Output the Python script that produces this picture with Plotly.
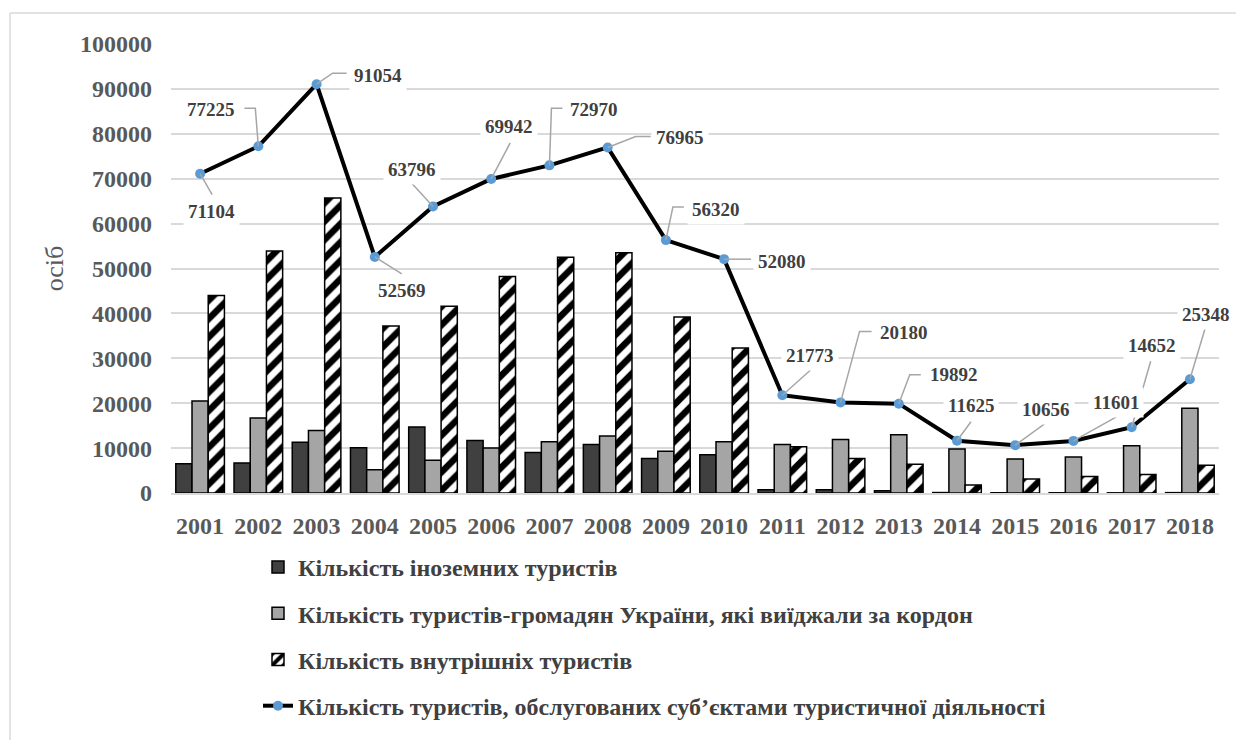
import plotly.graph_objects as go

# ---------------- data ----------------
years = [str(y) for y in range(2001, 2019)]
foreign = [6500, 6700, 11300, 10100, 14700, 11700, 9000, 10800, 7700, 8500,
           700, 700, 500, 100, 60, 50, 40, 80]
outbound = [20500, 16700, 13900, 5200, 7300, 10000, 11400, 12700, 9300, 11400,
            10800, 11900, 13000, 9800, 7600, 8000, 10500, 18900]
domestic = [44000, 53900, 65700, 37200, 41600, 48200, 52500, 53500, 39200, 32300,
            10300, 7700, 6400, 1800, 3100, 3700, 4100, 6200]
served = [71104, 77225, 91054, 52569, 63796, 69942, 72970, 76965, 56320, 52080,
          21773, 20180, 19892, 11625, 10656, 11601, 14652, 25348]

names = [
    "Кількість іноземних туристів",
    "Кількість туристів-громадян України, які виїджали за кордон",
    "Кількість внутрішніх туристів",
    "Кількість туристів, обслугованих суб’єктами туристичної діяльності",
]
y_title = "осіб"

# ---------------- style: label offsets (pixels, screen: +x right, +y down) ----------------
label_off = [(11, 38), (-47, -37), (61, -9), (27, 34), (-21, -37), (18, -52),
             (45, -56), (72, -10), (50, -31), (58, 2), (28, -40), (63, -70),
             (55, -29), (14, -35), (31, -36), (43, -38), (20, -82), (16, -65)]
# leader polylines (pixel offsets from the point, screen coords)
leaders = [
    [(12, 21)],
    [(-3, -38), (-14, -38)],
    [(16, -11), (30, -11)],
    [(27, 17)],
    [(-21, -23)],
    [(19, -36)],
    [(2, -57), (13, -57)],
    [(28, -11), (43, -11)],
    [(7, -33), (18, -33)],
    [(27, 0)],
    [(28, -25)],
    [(19, -71), (31, -71)],
    [(11, -29), (22, -29)],
    [(14, -19)],
    [(29, -21)],
    [(43, -24)],
    [(19, -66)],
    [(15, -50)],
]

SERIF = "Liberation Serif"
GRID = "#D9D9D9"
TXT = "#595959"
LBL = "#404040"

W, H = 1236, 740
ML, MR, MT, MB = 171, 17, 44, 247
PW, PH = W - ML - MR, H - MT - MB


def px_x(px):
    return (px - ML) / PW


def px_y(py):
    return (H - MB - py) / PH


idx = list(range(len(years)))

fig = go.Figure()

fig.add_trace(go.Bar(
    x=idx, y=foreign, name=names[0], legendgroup="a",
    marker=dict(color="#404040", line=dict(color="#000000", width=1.5)),
))
fig.add_trace(go.Bar(
    x=idx, y=outbound, name=names[1], legendgroup="b",
    marker=dict(color="#A5A5A5", line=dict(color="#000000", width=1.5)),
))
fig.add_trace(go.Bar(
    x=idx, y=domestic, name=names[2], legendgroup="c",
    marker=dict(color="#FFFFFF", line=dict(color="#000000", width=1.5),
                pattern=dict(shape="/", fgcolor="#000000", bgcolor="#FFFFFF",
                             fgopacity=1, size=13, solidity=0.5,
                             fillmode="replace")),
))
fig.add_trace(go.Scatter(
    x=idx, y=served, name=names[3], legendgroup="d", mode="lines+markers",
    line=dict(color="#000000", width=4),
    marker=dict(color="#5B9BD5", size=10),
))

shapes = []
annotations = []
for i, v in enumerate(served):
    pts = [(0, 0)] + leaders[i]
    path = "M" + " L".join(f"{dx},{-dy}" for dx, dy in pts)
    shapes.append(dict(type="path", xref="x", yref="y", xsizemode="pixel",
                       ysizemode="pixel", xanchor=i, yanchor=v, path=path,
                       line=dict(color="#A6A6A6", width=1.5), layer="above"))
    dx, dy = label_off[i]
    annotations.append(dict(x=i, y=v, xref="x", yref="y", text=f"{v}",
                            showarrow=False, xshift=dx, yshift=-dy,
                            bgcolor="#FFFFFF", borderpad=4,
                            font=dict(family=SERIF, size=19, color=LBL, weight="bold")))

# chart-area frame (left and top edges visible)
shapes.append(dict(type="line", xref="paper", yref="paper",
                   x0=px_x(10), x1=px_x(10), y0=px_y(13), y1=px_y(760),
                   line=dict(color="#D9D9D9", width=1.5), layer="below"))
shapes.append(dict(type="line", xref="paper", yref="paper",
                   x0=px_x(10), x1=px_x(1260), y0=px_y(13), y1=px_y(13),
                   line=dict(color="#D9D9D9", width=1.5), layer="below"))

fig.update_layout(
    width=W, height=H,
    margin=dict(l=ML, r=MR, t=MT, b=MB),
    paper_bgcolor="#FFFFFF", plot_bgcolor="#FFFFFF",
    barmode="group", bargap=0.165, bargroupgap=0,
    font=dict(family=SERIF, color=TXT),
    shapes=shapes, annotations=annotations,
    showlegend=True,
    legend=dict(orientation="v", x=px_x(258), xanchor="left",
                y=px_y(545), yanchor="top", tracegroupgap=12,
                bgcolor="rgba(0,0,0,0)", traceorder="grouped",
                font=dict(family=SERIF, size=24, color=LBL, weight="bold")),
)
fig.update_xaxes(range=[-0.5, len(years) - 0.5], tickmode="array",
                 tickvals=idx, ticktext=years,
                 showgrid=False, showline=True, linecolor=GRID,
                 linewidth=1.5, ticks="", ticklabelstandoff=10, zeroline=False,
                 tickfont=dict(family=SERIF, size=24, color=TXT, weight="bold"))
fig.update_yaxes(range=[0, 100000], dtick=10000, tickformat="d",
                 showgrid=True, gridcolor=GRID,
                 gridwidth=1.5, zeroline=False, showline=False, ticks="",
                 ticklabelstandoff=18,
                 tickfont=dict(family=SERIF, size=24, color=TXT, weight="bold"),
                 title=dict(text=y_title, standoff=8,
                            font=dict(family=SERIF, size=26, color=TXT)))

fig.write_html("out.html", config={"displayModeBar": False},
               post_script="document.body.style.margin='0px';document.body.style.overflow='hidden';")
